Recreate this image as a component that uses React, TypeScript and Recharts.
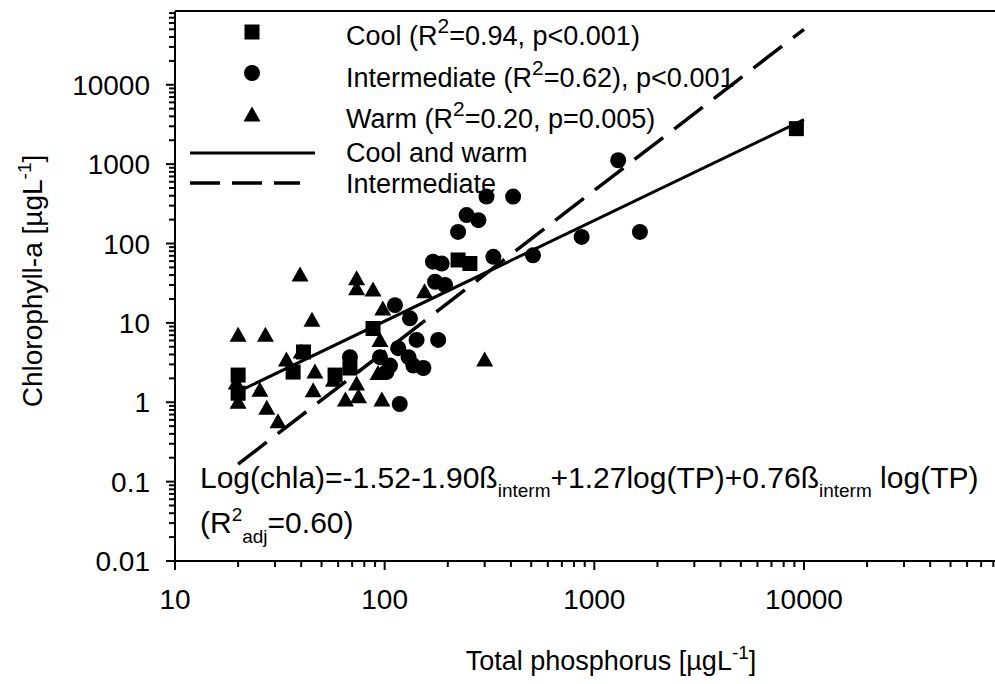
import React from 'react';
import { ScatterChart, Scatter, XAxis, YAxis, ReferenceLine, Customized } from 'recharts';

const FONT = '"Liberation Sans", Arial, Helvetica, sans-serif';

// Axis tick values
const xMajorTicks = [10, 100, 1000, 10000];
const yMajorTicks = [0.01, 0.1, 1, 10, 100, 1000, 10000];
const minorMultipliers = [1, 2, 3, 4, 5, 6, 7, 8, 9];
const X_DOMAIN = [10, 81500];
const Y_DOMAIN = [0.01, 85000];

// Cool lakes (squares)
const coolTP = [20, 20, 88, 41, 36.6, 58, 68.3, 224, 255, 9200];
const coolChla = [2.2, 1.3, 8.5, 4.3, 2.4, 2.2, 2.7, 62, 56, 2800];

// Intermediate lakes (circles)
const intermTP = [1300, 306, 410, 246, 280, 224, 1650, 870, 510, 330, 170, 187, 174, 194, 112, 132, 68.3, 180, 142, 116, 95, 106, 130, 137, 153, 102, 118];
const intermChla = [1120, 390, 390, 228, 197, 140, 140, 121, 71, 68, 59, 56, 33, 30, 16.7, 11.4, 3.7, 6.1, 6.1, 4.8, 3.7, 2.9, 3.7, 2.9, 2.7, 2.4, 0.95];

// Warm lakes (triangles)
const warmTP = [39.5, 73.5, 73.5, 88, 98, 45, 20, 27, 95, 34, 40, 46.5, 93, 20, 45.6, 25.4, 57, 73.5, 65, 75, 97, 27.4, 31, 300, 155, 19.6];
const warmChla = [40, 36, 27, 26, 15, 10.8, 7, 7, 6, 3.4, 4.3, 2.4, 2.3, 1.0, 1.4, 1.42, 1.9, 1.7, 1.07, 1.17, 1.07, 0.84, 0.57, 3.4, 24.7, 1.75];

// Regression lines (end points)
const coolWarmLineTP = [20, 10000];
const coolWarmLineChla = [1.36, 3630];
const intermLineTP = [20, 10000];
const intermLineChla = [0.166, 50000];

const zip = (xs: number[], ys: number[]) => xs.map((x, i) => ({ tp: x, chla: ys[i] }));
const coolData = zip(coolTP, coolChla);
const intermData = zip(intermTP, intermChla);
const warmData = zip(warmTP, warmChla);

const buildTicks = (majors: number[], max: number) => {
  const out: number[] = [];
  majors.forEach((m) => {
    minorMultipliers.forEach((k) => {
      const v = Number((k * m).toPrecision(6));
      if (v <= max) out.push(v);
    });
  });
  return out;
};
const xTicks = buildTicks(xMajorTicks, X_DOMAIN[1]);
const yTicks = buildTicks(yMajorTicks, Y_DOMAIN[1]);

const isMajor = (v: number) => Math.abs(Math.log10(v) - Math.round(Math.log10(v))) < 1e-6;

const XTick = (props: any) => {
  const { x, y, payload } = props;
  const v = payload.value;
  const major = isMajor(v);
  return (
    <g>
      <line x1={x} x2={x} y1={y} y2={y + (major ? 9 : 6)} stroke="#000" strokeWidth={2} />
      {major && (
        <text x={x} y={y + 48} textAnchor="middle" fontSize={28} fontFamily={FONT} fill="#000">
          {String(v)}
        </text>
      )}
    </g>
  );
};

const YTick = (props: any) => {
  const { x, y, payload } = props;
  const v = payload.value;
  const major = isMajor(v);
  return (
    <g>
      <line x1={x} x2={x - (major ? 9 : 6)} y1={y} y2={y} stroke="#000" strokeWidth={2} />
      {major && (
        <text x={x - 25} y={y + 10} textAnchor="end" fontSize={28} fontFamily={FONT} fill="#000">
          {String(v)}
        </text>
      )}
    </g>
  );
};

const SquareShape = (p: any) => <rect x={p.cx - 7.5} y={p.cy - 7.5} width={15} height={15} fill="#000" />;
const CircleShape = (p: any) => <circle cx={p.cx} cy={p.cy} r={8} fill="#000" />;
const TriangleShape = (p: any) => (
  <polygon points={`${p.cx},${p.cy - 8.5} ${p.cx - 8.5},${p.cy + 6.5} ${p.cx + 8.5},${p.cy + 6.5}`} fill="#000" />
);

const Overlay = () => {
  const t = { fontFamily: FONT, fill: '#000' } as any;
  return (
    <g>
      {/* legend */}
      <rect x={244.5} y={24.5} width={15} height={15} fill="#000" />
      <circle cx={252} cy={73} r={8} fill="#000" />
      <polygon points="252,106.5 243.5,121.5 260.5,121.5" fill="#000" />
      <line x1={190} x2={315} y1={153} y2={153} stroke="#000" strokeWidth={3} />
      <line x1={190} x2={300} y1={183} y2={183} stroke="#000" strokeWidth={3.5} strokeDasharray="30 12" />
      <text x={346} y={45} fontSize={27} {...t}>
        <tspan>{'Cool (R'}</tspan>
        <tspan dy={-12} fontSize={21}>2</tspan>
        <tspan dy={12}>{'=0.94, p<0.001)'}</tspan>
      </text>
      <text x={346} y={87} fontSize={27} {...t}>
        <tspan>{'Intermediate (R'}</tspan>
        <tspan dy={-12} fontSize={21}>2</tspan>
        <tspan dy={12}>{'=0.62), p<0.001'}</tspan>
      </text>
      <text x={346} y={128} fontSize={27} {...t}>
        <tspan>{'Warm (R'}</tspan>
        <tspan dy={-12} fontSize={21}>2</tspan>
        <tspan dy={12}>{'=0.20, p=0.005)'}</tspan>
      </text>
      <text x={346} y={162} fontSize={27} {...t}>Cool and warm</text>
      <text x={346} y={193} fontSize={27} {...t}>Intermediate</text>

      {/* equation */}
      <text x={200} y={488} fontSize={30} {...t}>
        <tspan>{'Log(chla)=-1.52-1.90ß'}</tspan>
        <tspan dy={9} fontSize={19}>interm</tspan>
        <tspan dy={-9}>{'+1.27log(TP)+0.76ß'}</tspan>
        <tspan dy={9} fontSize={19}>interm</tspan>
        <tspan dy={-9}>{' log(TP)'}</tspan>
      </text>
      <text x={200} y={533} fontSize={30} {...t}>
        <tspan>{'(R'}</tspan>
        <tspan dy={-12} fontSize={19}>2</tspan>
        <tspan dy={22} fontSize={19}>adj</tspan>
        <tspan dy={-10}>{'=0.60)'}</tspan>
      </text>

      {/* axis titles */}
      <text x={611} y={670} textAnchor="middle" fontSize={27} {...t}>
        <tspan>{'Total phosphorus [µgL'}</tspan>
        <tspan dy={-11} fontSize={19}>-1</tspan>
        <tspan dy={11}>]</tspan>
      </text>
      <text transform="rotate(-90)" x={-281} y={42} textAnchor="middle" fontSize={28} {...t}>
        <tspan>{'Chlorophyll-a [µgL'}</tspan>
        <tspan dy={-11} fontSize={19}>-1</tspan>
        <tspan dy={11}>]</tspan>
      </text>
    </g>
  );
};

export default function App() {
  return (
    <div style={{ position: 'fixed', left: 0, top: 0, width: 995, height: 684, background: '#fff', overflow: 'hidden' }}>
      <ScatterChart width={995} height={684} margin={{ top: 11, right: 0, bottom: 0, left: 0 }}>
        <XAxis
          type="number"
          dataKey="tp"
          scale="log"
          domain={X_DOMAIN}
          allowDataOverflow
          ticks={xTicks}
          interval={0}
          tick={<XTick />}
          tickLine={false}
          tickSize={0}
          tickMargin={0}
          axisLine={{ stroke: '#000', strokeWidth: 2 }}
          height={123}
        />
        <YAxis
          type="number"
          dataKey="chla"
          scale="log"
          domain={Y_DOMAIN}
          allowDataOverflow
          ticks={yTicks}
          interval={0}
          tick={<YTick />}
          tickLine={false}
          tickSize={0}
          tickMargin={0}
          axisLine={{ stroke: '#000', strokeWidth: 2 }}
          width={175}
        />
        <ReferenceLine y={Y_DOMAIN[1]} stroke="#000" strokeWidth={2} />
        <ReferenceLine
          segment={[{ x: coolWarmLineTP[0], y: coolWarmLineChla[0] }, { x: coolWarmLineTP[1], y: coolWarmLineChla[1] }]}
          stroke="#000"
          strokeWidth={3}
        />
        <ReferenceLine
          segment={[{ x: intermLineTP[0], y: intermLineChla[0] }, { x: intermLineTP[1], y: intermLineChla[1] }]}
          stroke="#000"
          strokeWidth={3.5}
          strokeDasharray="36 14"
        />
        <Scatter name="Cool" data={coolData} shape={SquareShape} isAnimationActive={false} />
        <Scatter name="Intermediate" data={intermData} shape={CircleShape} isAnimationActive={false} />
        <Scatter name="Warm" data={warmData} shape={TriangleShape} isAnimationActive={false} />
        <Customized component={Overlay} />
      </ScatterChart>
    </div>
  );
}
